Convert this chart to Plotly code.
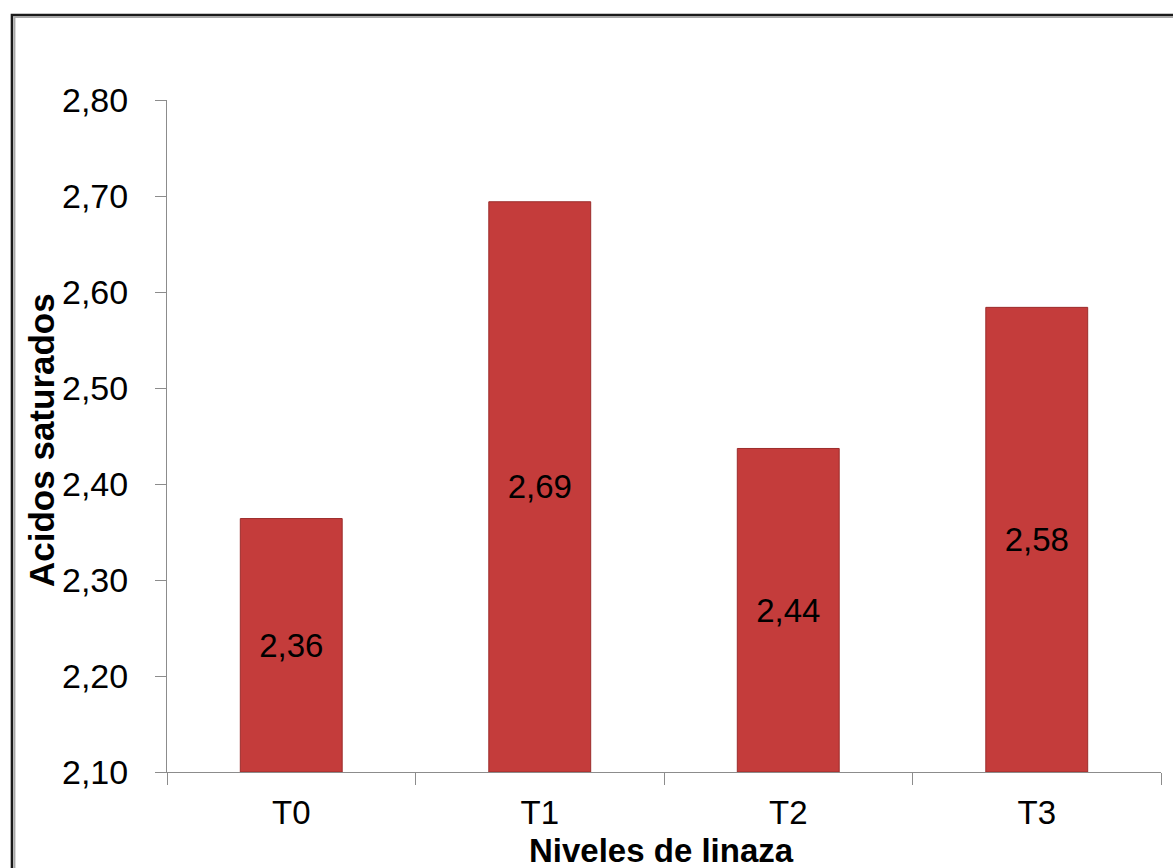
import plotly.graph_objects as go

# Saturated fatty acids by flaxseed level
categories = ["T0", "T1", "T2", "T3"]
values = [2.364, 2.694, 2.437, 2.584]
y_ticks = [2.10, 2.20, 2.30, 2.40, 2.50, 2.60, 2.70, 2.80]
y_tick_text = [f"{v:.2f}".replace(".", ",") for v in y_ticks]
bar_text = [f"{v:.2f}".replace(".", ",") for v in values]

FONT = "Liberation Sans, Arial, sans-serif"
AXIS_GRAY = "#8c8c8c"
Y_FLOOR = y_ticks[0]

fig = go.Figure()
fig.add_trace(go.Bar(
    x=categories,
    y=[v - Y_FLOOR for v in values],   # bars rise from the axis floor
    base=Y_FLOOR,
    text=bar_text,
    textposition="inside",
    insidetextanchor="middle",
    textangle=0,
    textfont=dict(family=FONT, size=33, color="#000000"),
    marker=dict(color="#c43c3b", line=dict(color="#9c2c2b", width=1)),
    width=0.41,
    hoverinfo="skip",
))

fig.update_layout(
    width=1173,
    height=868,
    margin=dict(l=167, r=12, t=100, b=96),
    paper_bgcolor="white",
    plot_bgcolor="white",
    showlegend=False,
    font=dict(family=FONT, color="#000000"),
    uniformtext=dict(mode="show", minsize=10),
)

fig.update_xaxes(
    type="category",
    showline=True,
    linecolor=AXIS_GRAY,
    linewidth=1,
    ticks="outside",
    tickson="boundaries",
    ticklen=12,
    tickcolor=AXIS_GRAY,
    tickfont=dict(family=FONT, size=33, color="#000000"),
    ticklabelstandoff=11,
    showgrid=False,
    zeroline=False,
)

fig.update_yaxes(
    range=[2.10, 2.80],
    tickvals=y_ticks,
    ticktext=y_tick_text,
    showline=True,
    linecolor=AXIS_GRAY,
    linewidth=1,
    ticks="outside",
    ticklen=11,
    tickcolor=AXIS_GRAY,
    tickfont=dict(family=FONT, size=34, color="#000000"),
    ticklabelstandoff=20,
    showgrid=False,
    zeroline=False,
)

# axis titles
fig.add_annotation(
    text="<b>Niveles de linaza</b>",
    xref="paper", yref="paper", x=0.497, y=-0.1175,
    xanchor="center", yanchor="middle", showarrow=False,
    font=dict(family=FONT, size=33, color="#000000"),
)
fig.add_annotation(
    text="<b>Acidos saturados</b>",
    xref="paper", yref="paper", x=-0.1268, y=0.494,
    xanchor="center", yanchor="middle", showarrow=False, textangle=-90,
    font=dict(family=FONT, size=35, color="#000000"),
)

# chart frame
fig.add_shape(type="rect", xref="paper", yref="paper",
              x0=-0.1560, y0=-0.25, x1=1.2, y1=1.1265,
              line=dict(color="#1a1a1a", width=2.5), layer="below")
fig.add_shape(type="rect", xref="paper", yref="paper",
              x0=-0.1535, y0=-0.25, x1=1.2, y1=1.1235,
              line=dict(color="#a8a8a8", width=2), layer="below")

fig.write_html("out.html")
